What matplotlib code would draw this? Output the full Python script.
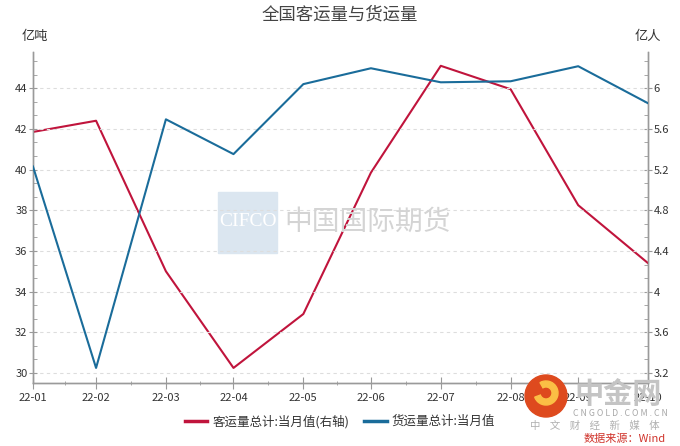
import matplotlib
matplotlib.use('Agg')
import matplotlib.pyplot as plt
import matplotlib.dates as mdates
import matplotlib.ticker as tkr
from matplotlib.patches import Rectangle, Circle, Wedge
import pandas as pd

plt.rcParams['font.family'] = ['Noto Sans CJK SC', 'DejaVu Sans']

# month-end dates, labels shown as yy-mm
months = ['2022-01', '2022-02', '2022-03', '2022-04', '2022-05',
          '2022-06', '2022-07', '2022-08', '2022-09', '2022-10']
freight = [40.15, 30.25, 42.47, 40.76, 44.2, 44.98, 44.29, 44.34, 45.08, 43.26]   # 亿吨, left axis
passenger = [5.57, 5.68, 4.20, 3.25, 3.78, 5.17, 6.22, 5.99, 4.85, 4.28]          # 亿人, right axis

title = '全国客运量与货运量'
left_unit = '亿吨'
right_unit = '亿人'
passenger_label = '客运量总计:当月值(右轴)'
freight_label = '货运量总计:当月值'

dates = pd.to_datetime(months) + pd.offsets.MonthEnd(0)

RED = '#c0143c'
BLUE = '#1a6c9a'
AXIS = '#9a9a9a'
TXT = '#333333'

fig = plt.figure(figsize=(6.8, 4.46), dpi=100)
ax = fig.add_axes([0.0485, 0.1413, 0.9045, 0.7417])
ax2 = ax.twinx()

ax.plot(dates, freight, color=BLUE, lw=1.5, zorder=3)
ax2.plot(dates, passenger, color=RED, lw=1.5, zorder=3)

# left axis
ylo, yhi = 29.51, 45.77
ax.set_ylim(ylo, yhi)
ax.yaxis.set_major_locator(tkr.MultipleLocator(2))
ax.yaxis.set_minor_locator(tkr.MultipleLocator(2 / 3))
ax.grid(axis='y', which='major', color='#dddddd', ls=(0, (3, 3)), lw=0.8)

# right axis lines up with left: 30 <-> 3.2, 44 <-> 6.0
ax2.set_ylim(3.2 + (ylo - 30) * 0.2, 3.2 + (yhi - 30) * 0.2)
ax2.yaxis.set_major_locator(tkr.FixedLocator([3.2, 3.6, 4.0, 4.4, 4.8, 5.2, 5.6, 6.0]))
ax2.yaxis.set_minor_locator(tkr.MultipleLocator(0.4 / 3))
ax2.yaxis.set_major_formatter(tkr.FuncFormatter(lambda v, p: ('%.1f' % v).rstrip('0').rstrip('.')))

# x axis
ax.set_xlim(dates[0], dates[-1])
ax.set_xticks(dates)
ax.xaxis.set_major_formatter(mdates.DateFormatter('%y-%m'))
mids = [dates[i] + (dates[i + 1] - dates[i]) / 2 for i in range(len(dates) - 1)]
ax.set_xticks(mids, minor=True)

for a in (ax, ax2):
    for s in a.spines.values():
        s.set_color(AXIS)
        s.set_linewidth(1.0)
    a.spines['top'].set_visible(False)
    a.tick_params(which='both', colors=AXIS, labelcolor=TXT, labelsize=8)
    a.tick_params(which='major', length=5)
    a.tick_params(which='minor', length=3)
for a in (ax, ax2):
    a.tick_params(axis='y', which='both', direction='in', pad=1)
    a.tick_params(axis='y', which='major', direction='inout', length=6)
ax.tick_params(axis='x', which='both', direction='inout', pad=3)
ax.tick_params(axis='x', which='major', length=8)

ax.set_zorder(ax2.get_zorder() + 1)
ax.patch.set_visible(False)

# titles / units
fig.text(0.5, 0.968, title, ha='center', va='center', fontsize=12.5, color='#444444')
fig.text(0.032, 0.918, left_unit, ha='left', va='center', fontsize=9.5, color=TXT)
fig.text(0.972, 0.918, right_unit, ha='right', va='center', fontsize=9.5, color=TXT)

# legend
fig.legend([plt.Line2D([], [], color=RED, lw=2.5), plt.Line2D([], [], color=BLUE, lw=2.5)],
           [passenger_label, freight_label], loc='center', bbox_to_anchor=(0.5, 0.055),
           ncol=2, frameon=False, fontsize=9, handlelength=1.8, handletextpad=0.4,
           columnspacing=1.2, labelcolor=TXT)

px = fig.dpi_scale_trans  # inches; 100 px per inch


def P(x, y):
    return (x / 100, (446 - y) / 100)


# CIFCO watermark
fig.patches.append(Rectangle(P(218, 253), 0.59, 0.61, transform=px, color='#dbe6f0', zorder=0))
fig.text(*P(247.5, 222), 'CIFCO', transform=px, ha='center', va='center', fontsize=14,
         color='white', family='Liberation Serif', zorder=1)
fig.text(*P(368, 222), '中国国际期货', transform=px, ha='center', va='center', fontsize=20,
         color='#d4d4d4', zorder=1)

# cngold watermark
fig.patches.append(Circle(P(546, 396), 0.21, transform=px, color='#de4a1e', zorder=5))
fig.patches.append(Wedge(P(546, 393), 0.12, 200, 120, width=0.06, transform=px,
                         color='#fbbf45', zorder=6))
fig.text(*P(618, 394), '中金网', transform=px, ha='center', va='center', fontsize=21,
         color='#c4c4c4', weight='bold', zorder=6)
fig.text(*P(620, 413), 'C N G O L D . C O M . C N', transform=px, ha='center', va='center',
         fontsize=6.3, color='#a8a8a8', zorder=6)
fig.text(*P(595, 426), '中    文    财    经    新    媒    体', transform=px, ha='center',
         va='center', fontsize=7.5, color='#b0b0b0', zorder=6)
fig.text(*P(666, 439), '数据来源：Wind', transform=px, ha='right', va='center', fontsize=8,
         color='#d0342c', zorder=6)

fig.savefig('out.png', dpi=100)
